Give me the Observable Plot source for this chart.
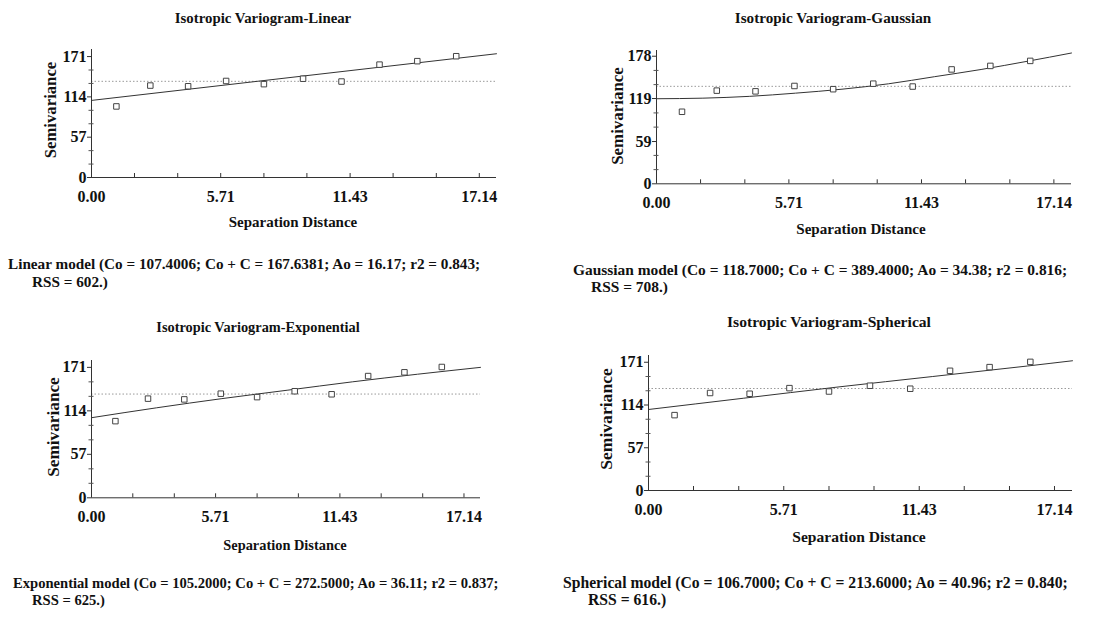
<!DOCTYPE html>
<html><head><meta charset="utf-8">
<script src="https://cdn.jsdelivr.net/npm/d3@7"></script>
<script src="https://cdn.jsdelivr.net/npm/@observablehq/plot@0.6"></script>
<style>
body{margin:0;background:#fff;width:1116px;height:617px;position:relative;overflow:hidden;font-family:"Liberation Serif","Times New Roman",serif;font-weight:bold;color:#111}
.t{position:absolute;white-space:nowrap;line-height:1}
.p{position:absolute}
</style></head><body>
<script>
// ---- data ----
const lagDistance  = [1.10, 2.60, 4.27, 5.95, 7.62, 9.35, 11.05, 12.73, 14.40, 16.12];
const semivariance = [100.5, 130.0, 129.0, 136.5, 132.0, 139.7, 135.7, 159.6, 164.5, 171.5];
const sampleVariance = 136;

const linearFitX = [0, 17.9];
const linearFitY = [109, 175];
const gaussianFitX = [0, 2, 4, 6, 8, 10, 12, 14, 16, 17.9];
const gaussianFitY = [118.7, 119.5, 122, 126.5, 132, 139.5, 149.5, 159.5, 171, 182.5];
const exponentialFitX = [0, 3, 6, 9, 12, 15, 17.9];
const exponentialFitY = [105, 118, 130, 141, 152, 162, 171];
const sphericalFitX = [0, 4, 8, 12, 16, 17.9];
const sphericalFitY = [108, 123, 138, 152, 166, 173];

const xTickLabels = [0, 5.71, 11.43, 17.14];
const xMinorTicks = [1.90, 3.81, 7.62, 9.52, 13.33, 15.24];
const yTicks171 = [0, 57, 114, 171];
const yMinor171 = [19, 38, 76, 95, 133, 152];
const yTicks178 = [0, 59, 119, 178];
const yMinor178 = [19.8, 39.6, 79.1, 98.9, 138.4, 158.2];

const titles = ["Isotropic Variogram-Linear", "Isotropic Variogram-Gaussian", "Isotropic Variogram-Exponential", "Isotropic Variogram-Spherical"];
const captions1 = [
  "Linear model (Co = 107.4006; Co + C = 167.6381; Ao = 16.17; r2 = 0.843;",
  "Gaussian model (Co = 118.7000; Co + C = 389.4000; Ao = 34.38; r2 = 0.816;",
  "Exponential model (Co = 105.2000; Co + C = 272.5000; Ao = 36.11; r2 = 0.837;",
  "Spherical model (Co = 106.7000; Co + C = 213.6000; Ao = 40.96; r2 = 0.840;"
];
const captions2 = ["RSS = 602.)", "RSS = 708.)", "RSS = 625.)", "RSS = 616.)"];

// ---- layout ----
const panels = [
  {left:0,   top:40,  width:540, height:200, mL:91,  mR:44, mT:9,  mB:63,   yMax:181, yT:yTicks171, yM:yMinor171, fx:linearFitX, fy:linearFitY,
   title:[263,18,177], xl:[293,222,128], yl:[51,110,97], c1:[8,264,472], c2:[32,282]},
  {left:556, top:40,  width:560, height:210, mL:100, mR:45, mT:10, mB:66.7, yMax:186, yT:yTicks178, yM:yMinor178, fx:gaussianFitX, fy:gaussianFitY,
   title:[833,18,196], xl:[861,230,129], yl:[618,116,98], c1:[573,270,495], c2:[591,287]},
  {left:0,   top:350, width:540, height:200, mL:91,  mR:60, mT:10, mB:52.7, yMax:180, yT:yTicks171, yM:yMinor171, fx:exponentialFitX, fy:exponentialFitY,
   title:[258,327,203], xl:[285,545,123], yl:[54,427,100], c1:[13,583,486], c2:[32,600]},
  {left:556, top:345, width:560, height:200, mL:92,  mR:44, mT:10, mB:55,   yMax:180, yT:yTicks171, yM:yMinor171, fx:sphericalFitX, fy:sphericalFitY,
   title:[829,322,204], xl:[859,537,133], yl:[607,419,102], c1:[563,583,505], c2:[588,600]}
];

function text(str, x, y, size, opts = {}) {
  const d = document.createElement("div");
  d.className = "t";
  d.textContent = str;
  d.style.fontSize = size + "px";
  d.style.left = x + "px";
  d.style.top = y + "px";
  document.body.appendChild(d);
  if (opts.fit) {
    const w = d.offsetWidth;
    if (w > 0) d.style.fontSize = (size * opts.fit / w).toFixed(2) + "px";
  }
  if (opts.rotate) d.style.transform = "translate(-50%,-50%) rotate(-90deg)";
  else if (opts.left) d.style.transform = "translate(0,-50%)";
  else d.style.transform = "translate(-50%,-50%)";
  return d;
}

const points = lagDistance.map((x, i) => ({x, y: semivariance[i]}));

panels.forEach((p, i) => {
  const fit = p.fx.map((x, j) => ({x, y: p.fy[j]}));
  const chart = Plot.plot({
    width: p.width, height: p.height,
    marginLeft: p.mL, marginRight: p.mR, marginTop: p.mT, marginBottom: p.mB,
    x: {domain: [0, 17.9], label: null},
    y: {domain: [0, p.yMax], label: null},
    style: {fontFamily: '"Liberation Serif","Times New Roman",serif', fontSize: "16px", fontWeight: "bold", color: "#111", background: "#fff", overflow: "visible"},
    marks: [
      Plot.ruleY([sampleVariance], {stroke: "#9a9a9a", strokeDasharray: "1.5,2", strokeWidth: 1}),
      Plot.ruleY([0], {stroke: "#333"}),
      Plot.ruleX([0], {stroke: "#333"}),
      Plot.axisX(xTickLabels.concat(xMinorTicks), {tickSize: 4, dy: -4, tickFormat: () => "", label: null, stroke: "#333"}),
      Plot.axisX(xTickLabels, {tickSize: 0, tickPadding: 13, tickFormat: d => d.toFixed(2), label: null, fill: "#111"}),
      Plot.axisY(p.yM, {tickSize: 5, dx: 2.5, tickFormat: () => "", label: null, stroke: "#555"}),
      Plot.axisY(p.yT, {tickSize: 4, tickPadding: 1, tickFormat: d => String(d), label: null, fill: "#111", stroke: "#333"}),
      Plot.line(fit, {x: "x", y: "y", stroke: "#333", strokeWidth: 1, curve: "monotone-x"}),
      Plot.dot(points, {x: "x", y: "y", symbol: "square", r: 3.1, stroke: "#444", fill: "#fff", strokeWidth: 1})
    ]
  });
  chart.classList.add("p");
  chart.style.left = p.left + "px";
  chart.style.top = p.top + "px";
  document.body.appendChild(chart);

  text(titles[i], p.title[0], p.title[1], 14, {fit: p.title[2]});
  text("Separation Distance", p.xl[0], p.xl[1], 14.5, {fit: p.xl[2]});
  text("Semivariance", p.yl[0], p.yl[1], 15, {rotate: true, fit: p.yl[2]});
  const c = text(captions1[i], p.c1[0], p.c1[1], 14, {left: true, fit: p.c1[2]});
  text(captions2[i], p.c2[0], p.c2[1], parseFloat(c.style.fontSize), {left: true});
});
</script>
</body></html>
